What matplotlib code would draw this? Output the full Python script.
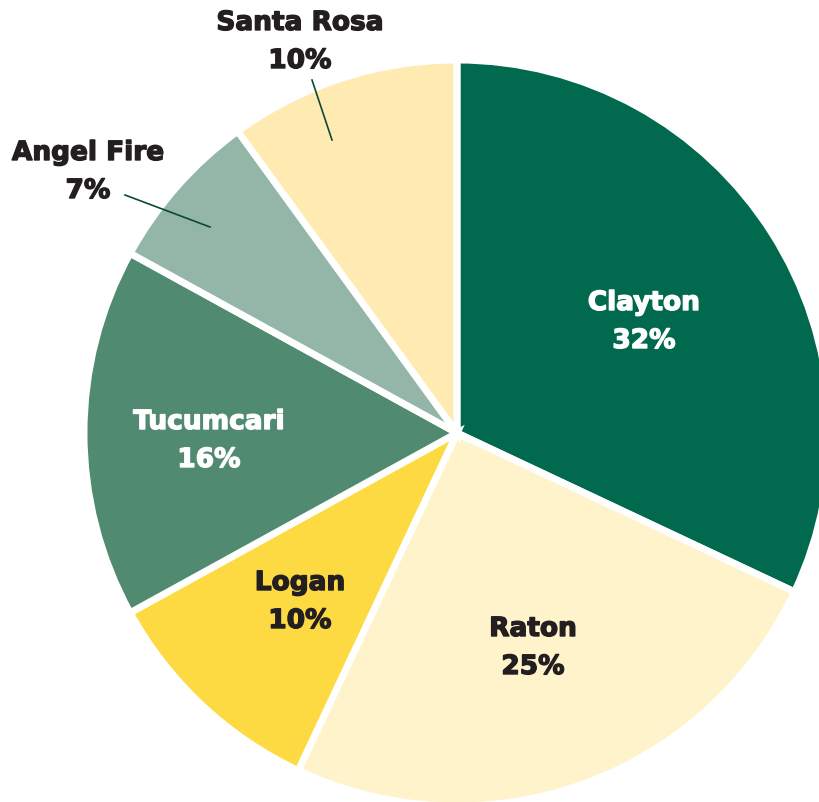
import matplotlib
matplotlib.use("Agg")
import matplotlib.pyplot as plt
import matplotlib.patheffects as pe

# Share of total by town
towns = ["Clayton", "Raton", "Logan", "Tucumcari", "Angel Fire", "Santa Rosa"]
shares = [32, 25, 10, 16, 7, 10]
colors = ["#01694D", "#FFF3CB", "#FDDA42", "#4F8A71", "#93B6A8", "#FFEBB1"]
text_colors = ["white", "#231F20", "#231F20", "white", "#231F20", "#231F20"]

W, H = 819, 802
fig = plt.figure(figsize=(W / 100, H / 100), dpi=100)
ax = fig.add_axes([0, 0, 1, 1])

cx, cy, r = 457, H - 433, 373
ax.pie(shares, colors=colors, startangle=90, counterclock=False,
       center=(cx, cy), radius=r, frame=True,
       wedgeprops=dict(edgecolor="white", linewidth=5))
ax.set_xlim(0, W)
ax.set_ylim(0, H)
ax.set_aspect("equal")
ax.axis("off")

font = dict(family=["DejaVu Sans"], fontweight="bold", fontsize=19)

# label anchor points (pixel space, y measured from top)
label_pos = {
    "Clayton": (644, 322),
    "Raton": (533, 648),
    "Logan": (300, 602),
    "Tucumcari": (209, 441),
    "Angel Fire": (88, 172),
    "Santa Rosa": (300, 42),
}
for name, val, tc in zip(towns, shares, text_colors):
    x, y = label_pos[name]
    ax.text(x, H - y, f"{name}\n{val}%", ha="center", va="center",
            color=tc, linespacing=1.6, **font,
            path_effects=[pe.withStroke(linewidth=1.0, foreground=tc)])

# leader lines for the small outer labels
ax.plot([312, 332], [H - 80, H - 140], color="#0B4A36", lw=1.2)
ax.plot([125, 210], [H - 195, H - 227], color="#0B4A36", lw=1.2)

fig.savefig("out.png", dpi=100)
